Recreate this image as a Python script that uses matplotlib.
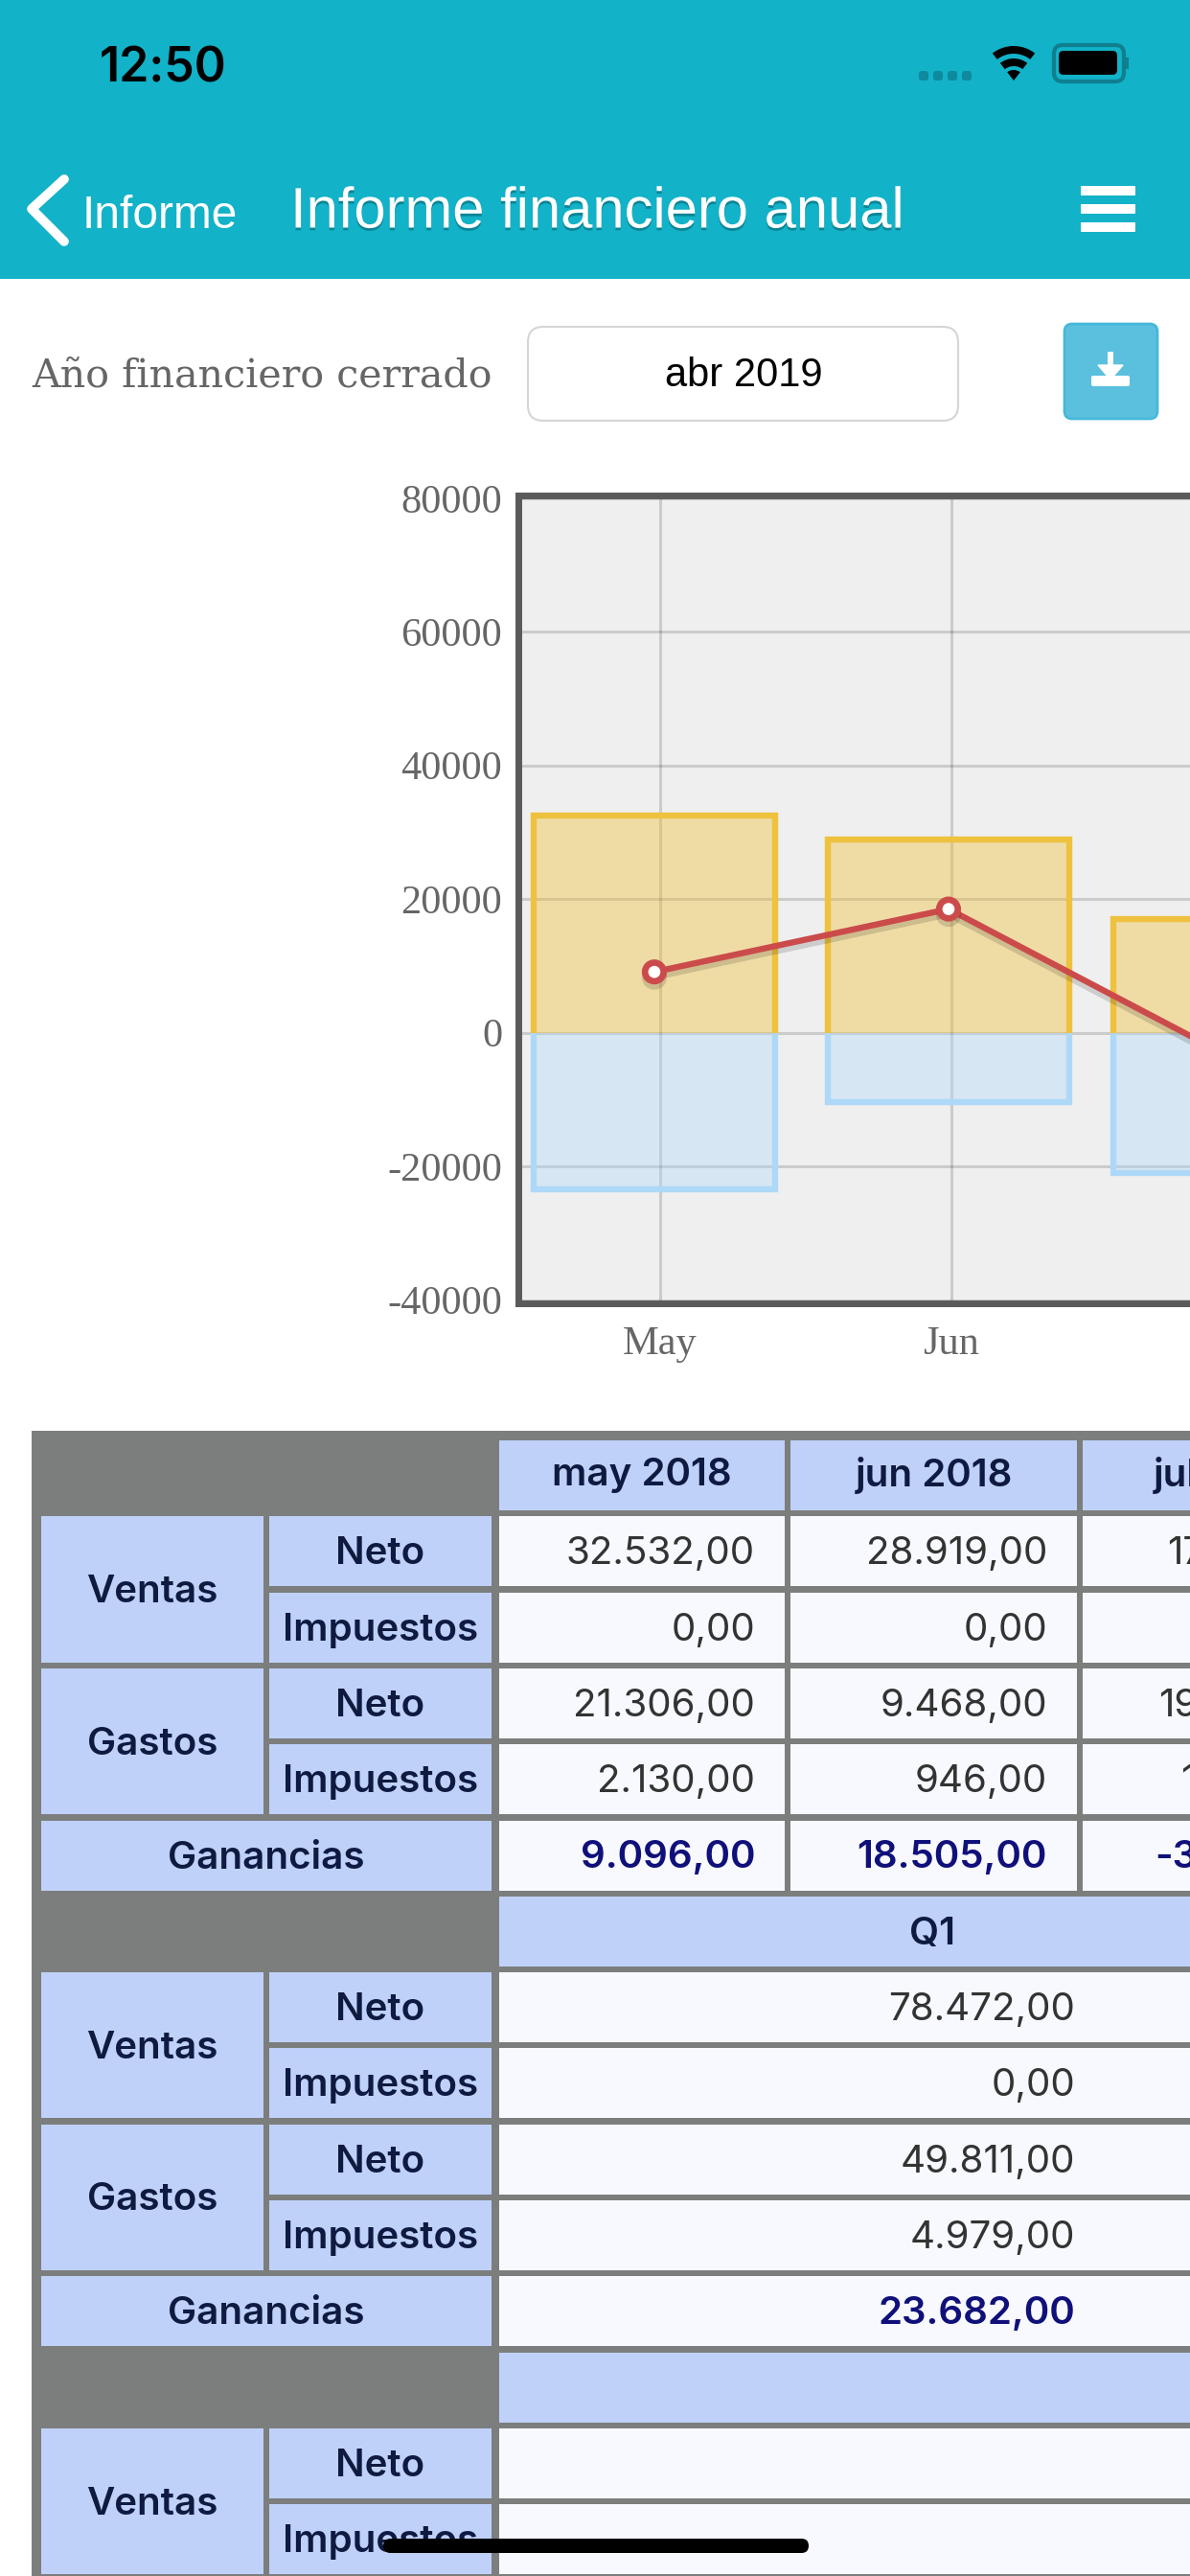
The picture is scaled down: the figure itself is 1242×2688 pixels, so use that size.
import matplotlib
matplotlib.use("Agg")
from matplotlib import pyplot as plt
from matplotlib import patheffects as pe
from matplotlib.patches import FancyBboxPatch, Rectangle, Wedge

W, H = 1242, 2688

# chart data
months = ["May", "Jun", "Jul"]
ventas = [32532, 28919, 17021]
gastos = [-23436, -10414, -20940]
ganancias = [9096, 18505, -3919]
y_ticks = [-40000, -20000, 0, 20000, 40000, 60000, 80000]

# table data
block1_head = ["may 2018", "jun 2018", "jul 2018"]
block1_rows = [
    ["32.532,00", "28.919,00", "17.021,00"],
    ["0,00", "0,00", "0,00"],
    ["21.306,00", "9.468,00", "19.037,00"],
    ["2.130,00", "946,00", "1.903,00"],
    ["9.096,00", "18.505,00", "-3.919,00"],
]
block2_head = "Q1"
block2_rows = ["78.472,00", "0,00", "49.811,00", "4.979,00", "23.682,00"]
sub_labels = ["Neto", "Impuestos"]

TEAL = "#12b2c8"
GRAY = "#7c7e7d"
CELL_HEAD = "#bfd1f8"
CELL_DATA = "#f7f9fe"
NAVY = "#0f1a40"
DATA_TXT = "#333333"
BLUE_TXT = "#10107a"
TXT = 29

fig = plt.figure(figsize=(W / 100, H / 100), dpi=100, facecolor="white")
bg = fig.add_axes([0, 0, 1, 1])
bg.set_xlim(0, W)
bg.set_ylim(H, 0)
bg.axis("off")


def box(x0, y0, x1, y1, color, z=1):
    bg.add_patch(Rectangle((x0, y0), x1 - x0, y1 - y0, fc=color, ec="none", zorder=z))


def rounded(x0, y0, x1, y1, r, fc, ec="none", lw=0, z=2):
    bg.add_patch(FancyBboxPatch((x0 + r, y0 + r), x1 - x0 - 2 * r, y1 - y0 - 2 * r,
                                boxstyle="round,pad=%s" % r, fc=fc, ec=ec, lw=lw, zorder=z))


def label(x, y, s, ha="center", color=NAVY, weight="semibold"):
    bg.text(x, y + 3, s, fontsize=TXT, family="Inter", weight=weight, color=color,
            ha=ha, va="center", zorder=3, clip_on=True)


# top bar
box(0, 0, W, 291, TEAL)
bg.text(170, 72, "12:50", fontsize=36, family="Inter", weight="semibold", color="black",
        ha="center", va="center", zorder=3)
for x in [959, 974, 989, 1004]:
    rounded(x, 74, x + 10, 84, 3, "#0f8a9c")
for r, wd in [(36, 8), (23, 8), (11, 11)]:
    bg.add_patch(Wedge((1058, 84), r, 232, 308, width=wd, fc="black", ec="none", zorder=3))
rounded(1100, 47, 1173, 85, 9, "none", ec="#0f7f90", lw=3)
rounded(1105, 53, 1166, 78, 5, "black")
box(1175, 60, 1178, 72, "#0f7f90")
bg.plot([67, 33, 67], [187, 218, 252], color="white", lw=7, solid_capstyle="round",
        solid_joinstyle="round", zorder=3)
bg.text(86, 226, "Informe", fontsize=34.5, family="Liberation Sans", color="white",
        ha="left", va="center", zorder=3)
bg.text(303, 222, "Informe financiero anual", fontsize=43, family="Liberation Sans", color="white",
        ha="left", va="center", zorder=3,
        path_effects=[pe.SimplePatchShadow(offset=(0, -2), shadow_rgbFace="#0a7f90", alpha=0.9), pe.Normal()])
for y in [194, 213, 232]:
    rounded(1128, y, 1185, y + 10, 1, "white", z=3)

# filter row
bg.text(33, 392, "Año financiero cerrado", fontsize=29.7, family="DejaVu Serif", color="#666666",
        ha="left", va="center", zorder=3)
rounded(551, 341, 1000, 439, 16, "white", ec="#d5d5d5", lw=1.5)
bg.text(776, 392, "abr 2019", fontsize=30, family="Liberation Sans", color="black",
        ha="center", va="center", zorder=3)
rounded(1111, 338, 1208, 437, 8, "#5bc0de", ec="#46b8da", lw=2)
box(1156, 367, 1162, 384, "white", 3)
bg.fill([1146, 1172, 1159], [381, 381, 396], color="white", zorder=3)
rounded(1139, 392, 1179, 403, 2, "white", z=3)

# table
box(33, 1493, W, H, GRAY)
col_x = [(521, 819), (825, 1124), (1130, 1428)]
row_h = 79.3
cell_h = 73


def row_top(k):
    return 1503 + k * row_h


def left_block(k):
    # Ventas / Gastos / Ganancias labels for the five rows below a header at row k
    for j, name in enumerate(["Ventas", "Gastos"]):
        t = row_top(k + 1 + 2 * j)
        box(43, t, 275, t + row_h + cell_h, CELL_HEAD, 2)
        label(159, t + (row_h + cell_h) / 2, name)
        for i, sub in enumerate(sub_labels):
            st = row_top(k + 1 + 2 * j + i)
            box(281, st, 513, st + cell_h, CELL_HEAD, 2)
            label(397, st + cell_h / 2, sub)
    t = row_top(k + 5)
    if t < H:
        box(43, t, 513, t + cell_h, CELL_HEAD, 2)
        label(278, t + cell_h / 2, "Ganancias")


# first block, one column per month
left_block(0)
for c, (x0, x1) in enumerate(col_x):
    x1_clip = min(x1, W)
    box(x0, row_top(0), x1_clip, row_top(0) + cell_h, CELL_HEAD, 2)
    label((x0 + x1) / 2, row_top(0) + cell_h / 2 - 3, block1_head[c])
    for r, row in enumerate(block1_rows):
        t = row_top(1 + r)
        box(x0, t, x1_clip, t + cell_h, CELL_DATA, 2)
        total = r == 4
        label(x1 - 31, t + cell_h / 2, row[c], ha="right",
              color=BLUE_TXT if total else DATA_TXT, weight="semibold" if total else "normal")

# second block, quarter
left_block(6)
box(521, row_top(6), W, row_top(6) + cell_h, CELL_HEAD, 2)
label(973, row_top(6) + cell_h / 2, block2_head)
for r, val in enumerate(block2_rows):
    t = row_top(7 + r)
    box(521, t, W, t + cell_h, CELL_DATA, 2)
    total = r == 4
    label(1122, t + cell_h / 2, val, ha="right",
          color=BLUE_TXT if total else DATA_TXT, weight="semibold" if total else "normal")

# third block, cut off by the screen
left_block(12)
box(521, row_top(12), W, row_top(12) + cell_h, CELL_HEAD, 2)
for r in range(2):
    t = row_top(13 + r)
    box(521, t, W, t + cell_h, CELL_DATA, 2)

rounded(400, 2649, 844, 2664, 7.5, "black", z=5)

# chart, axes run off the right side of the screen
left, right, top, bottom = 541, W, 517, 1360
ax = fig.add_axes([left / W, 1 - bottom / H, (right - left) / W, (bottom - top) / H])
ax.set_facecolor("#efefef")
px_per_month = 304

bar_w = 258 / px_per_month
bar_x = [i + s for i, s in enumerate([-0.02, -0.01, -0.03])]
for x, up, down in zip(bar_x, ventas, gastos):
    ax.bar(x, up, width=bar_w, color=(0.94, 0.745, 0.176, 0.38), zorder=2)
    ax.bar(x, down, width=bar_w, color=(0.667, 0.843, 0.98, 0.35), zorder=2)
    inset = 3.3 / px_per_month
    xs = [x - bar_w / 2 + inset, x - bar_w / 2 + inset, x + bar_w / 2 - inset, x + bar_w / 2 - inset]
    ax.plot(xs, [0, up, up, 0], color="#eec13f", lw=4.6, solid_joinstyle="miter",
            solid_capstyle="butt", zorder=3)
    ax.plot(xs, [0, down, down, 0], color="#aed8f8", lw=4.6, solid_joinstyle="miter",
            solid_capstyle="butt", zorder=3)

ax.plot(bar_x, ganancias, color="#cb4b4b", lw=4.6, marker="o", ms=14, mfc="white", mec="#cb4b4b",
        mew=4.8, zorder=4,
        path_effects=[pe.SimpleLineShadow(offset=(0, -4), shadow_color="black", alpha=0.14), pe.Normal()])

ax.set_xticks(range(len(months)))
ax.set_xticklabels(months)
ax.set_yticks(y_ticks)
ax.set_ylim(-40500, 80400)
ax.set_xlim(-(689 - left) / px_per_month, (right - 689) / px_per_month)
ax.grid(color="black", alpha=0.15, lw=2.2, zorder=1)
ax.set_axisbelow(True)
ax.tick_params(length=0, labelsize=30.5, labelcolor="#666666", labelfontfamily="Liberation Serif")
ax.tick_params(axis="y", pad=12)
ax.tick_params(axis="x", pad=17)
ax.yaxis.set_major_formatter(matplotlib.ticker.FuncFormatter(lambda v, _: "%d" % v))
for name in ["top", "left", "bottom"]:
    ax.spines[name].set_linewidth(5)
    ax.spines[name].set_color("#5a5a5a")
ax.spines["right"].set_visible(False)

fig.savefig("out.png", dpi=100)
